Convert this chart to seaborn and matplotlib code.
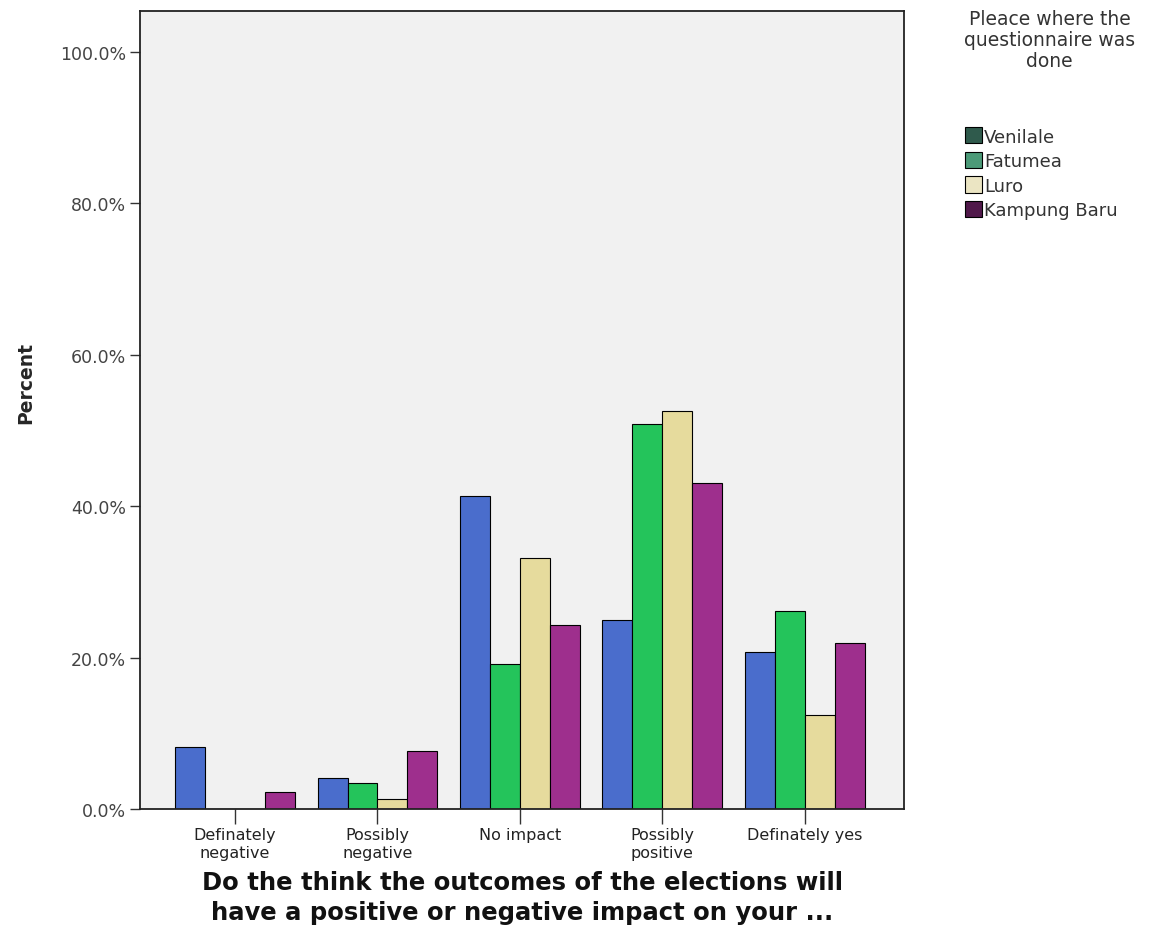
import matplotlib
matplotlib.use("Agg")
import matplotlib.pyplot as plt
from matplotlib.patches import Patch
from matplotlib.ticker import FuncFormatter
import seaborn as sns
import pandas as pd

# answers on the x axis
answers = ["Definately\nnegative", "Possibly\nnegative", "No impact",
           "Possibly\npositive", "Definately yes"]
places = ["Venilale", "Fatumea", "Luro", "Kampung Baru"]

# percent per place
venilale = [8.2, 4.1, 41.3, 24.9, 20.7]
fatumea = [0.0, 3.4, 19.1, 50.8, 26.1]
luro = [0.0, 1.3, 33.2, 52.5, 12.4]
kampung_baru = [2.2, 7.7, 24.3, 43.1, 21.9]

bar_colors = ["#4a6dcc", "#24c45b", "#e6db9d", "#9e2f8d"]
legend_colors = ["#2f5a4c", "#4c9a78", "#ebe5c3", "#50184a"]

rows = []
for place, vals in zip(places, [venilale, fatumea, luro, kampung_baru]):
    for ans, v in zip(answers, vals):
        rows.append({"answer": ans, "place": place, "pct": v})
df = pd.DataFrame(rows)

sns.set_style("white")
plt.rcParams["font.family"] = ["DejaVu Sans"]

fig = plt.figure(figsize=(11.6, 9.53), dpi=100)
ax = fig.add_axes([0.1207, 0.15, 0.659, 0.837])
ax.set_facecolor("#f1f1f1")

sns.barplot(data=df, x="answer", y="pct", hue="place", order=answers,
            hue_order=places, palette=dict(zip(places, bar_colors)),
            saturation=1, width=0.84, edgecolor="black", linewidth=0.8, ax=ax)

ax.set_ylim(0, 105.3)
ax.set_xlim(-0.667, 4.70)
ax.set_yticks([0, 20, 40, 60, 80, 100])
ax.yaxis.set_major_formatter(FuncFormatter(lambda v, p: f"{v:.1f}%"))
ax.tick_params(axis="y", direction="out", length=7, width=1, color="#333333",
               labelsize=12.5, labelcolor="#444444", left=True, pad=3)
ax.tick_params(axis="x", direction="out", length=11, width=1, color="#333333",
               labelsize=11.5, labelcolor="#222222", bottom=True, pad=2)
for s in ax.spines.values():
    s.set_visible(True)
    s.set_color("#222222")
    s.set_linewidth(1.3)

ax.set_ylabel("Percent", fontsize=13.5, fontweight="bold")
ax.yaxis.set_label_coords(-0.137, 0.535)
ax.set_xlabel("Do the think the outcomes of the elections will\n"
              "have a positive or negative impact on your ...",
              fontsize=17.5, fontweight="bold", color="#111111",
              linespacing=1.3)
ax.xaxis.set_label_coords(0.5, -0.077)

ax.legend_.remove()
fig.text(0.905, 0.99, "Pleace where the\nquestionnaire was\ndone",
         ha="center", va="top", ma="center", fontsize=13.5,
         linespacing=1.15, color="#333333")
handles = [Patch(facecolor=c, edgecolor="black", linewidth=0.8) for c in legend_colors]
fig.legend(handles, places, loc="upper left", bbox_to_anchor=(0.826, 0.873),
           frameon=False, fontsize=13, handlelength=0.9, handleheight=1.0,
           handletextpad=0.15, labelspacing=0.35, borderaxespad=0,
           labelcolor="#333333")

fig.savefig("out.png", dpi=100)
